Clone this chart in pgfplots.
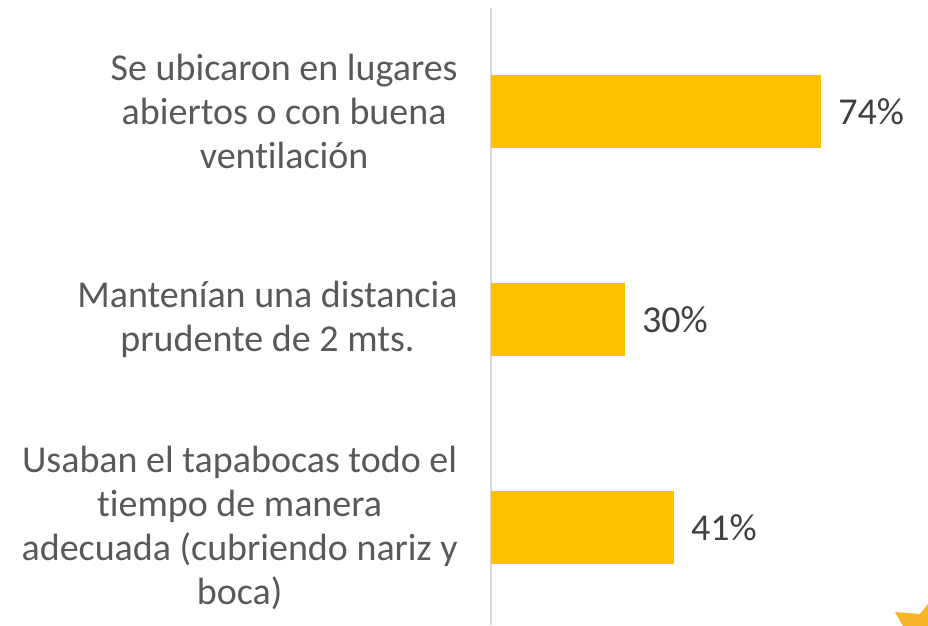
\documentclass[border=0pt]{standalone}
\usepackage{pgfplots}
\pgfplotsset{compat=1.18}
\usepackage{fontspec}
\setmainfont{Carlito}[Ligatures=NoCommon]
\definecolor{barfill}{HTML}{FFC000}
\definecolor{labelgray}{HTML}{595959}
\definecolor{valgray}{HTML}{404040}
\definecolor{axisgray}{HTML}{D9D9D9}
\definecolor{stargold}{HTML}{F7B52C}

\begin{document}
\begin{tikzpicture}
    \useasboundingbox (-245.5pt,-0.5pt) rectangle (218.5pt,312.5pt);
    \begin{axis}[
        scale only axis,
        width=218.5pt, height=308.5pt,
        xbar, bar width=0.35,
        xmin=0, xmax=98,
        ymin=-0.4976, ymax=2.469,
        y dir=reverse,
        axis x line=none,
        axis y line*=left,
        y axis line style={axisgray, line width=1.3pt, -},
        ytick={0,1,2},
        yticklabels={
            {Se ubicaron en lugares\\abiertos o con buena\\ventilación},
            {Mantenían una distancia\\prudente de 2 mts.},
            {Usaban el tapabocas todo el\\tiempo de manera\\adecuada (cubriendo nariz y\\boca)}
        },
        major tick length=0pt,
        yticklabel style={align=center, text=labelgray, inner sep=0pt, xshift=-16.5pt,
            font=\fontsize{19}{22}\selectfont},
        nodes near coords={\pgfmathprintnumber[assume math mode=true]{\pgfplotspointmeta}\%},
        nodes near coords style={anchor=west, inner sep=0pt, xshift=8.5pt, text=valgray,
            font=\fontsize{19}{22}\selectfont},
        clip=false,
    ]
    \addplot[fill=barfill, draw=none] coordinates {
        (74,0)
        (30,1)
        (41,2)
    };
    \end{axis}
    % corner decoration (partial star)
    \fill[stargold] (202pt,6.5pt) -- (214.5pt,5.5pt) -- (218.5pt,10.5pt) -- (218.5pt,-0.5pt) -- (206pt,-0.5pt) -- cycle;
\end{tikzpicture}
\end{document}
